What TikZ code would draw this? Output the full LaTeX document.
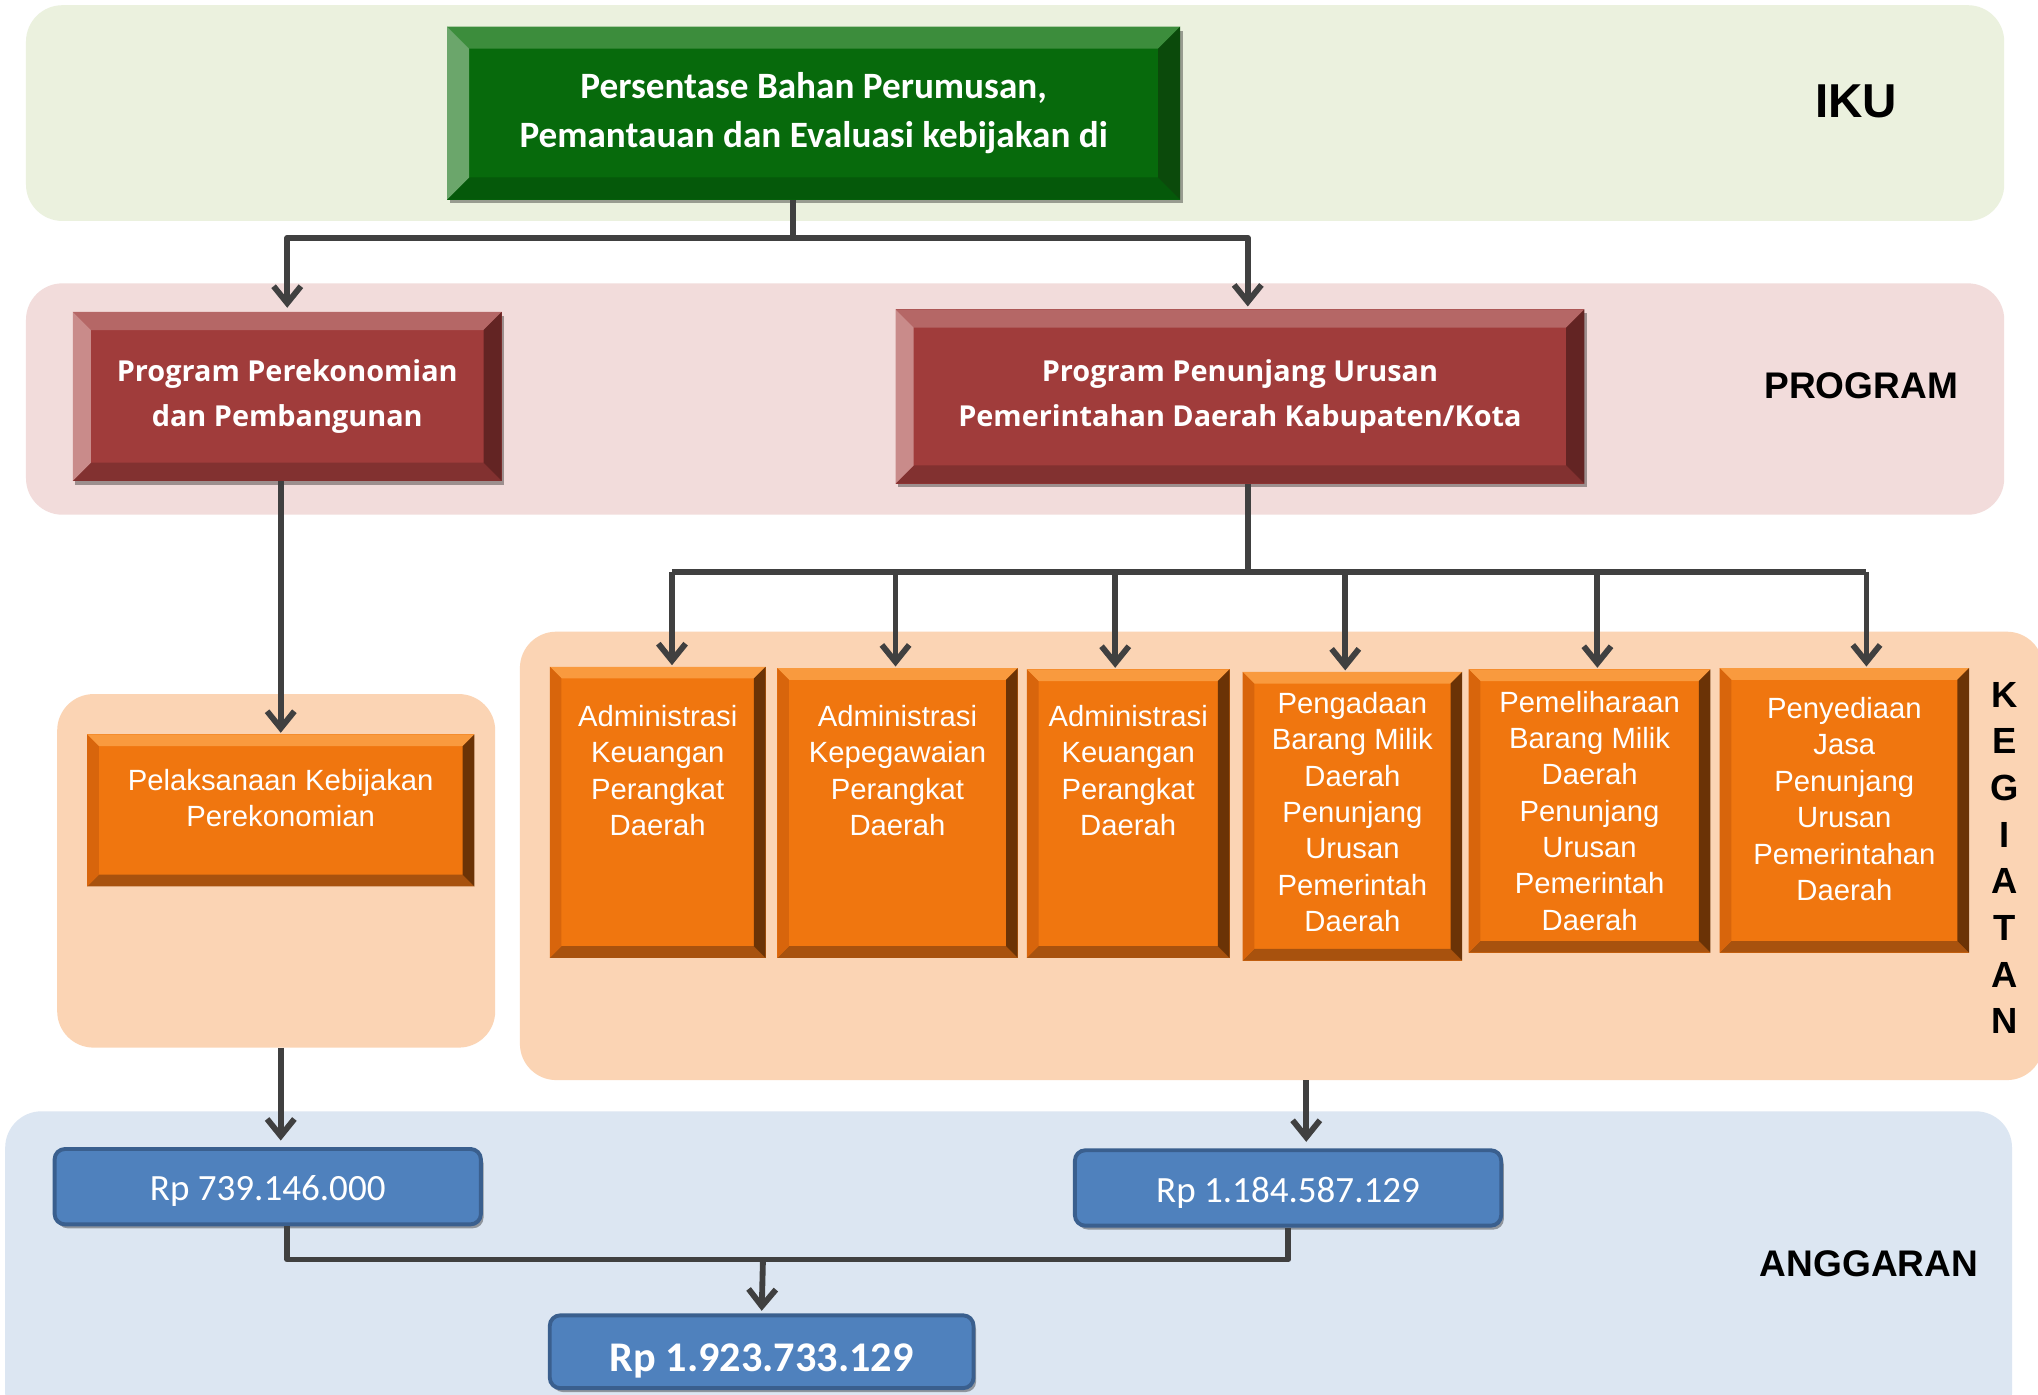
\documentclass[tikz,border=0pt]{standalone}
\usepackage{fontspec}
\setmainfont{Liberation Sans}
\newfontfamily\calibri{Carlito}
\newfontfamily\opensans{Open Sans}
\usetikzlibrary{positioning,calc,arrows.meta,shadows}
% warna latar
\definecolor{bgIku}{HTML}{EBF1DE}
\definecolor{bgProg}{HTML}{F2DCDB}
\definecolor{bgKeg}{HTML}{FBD4B4}
\definecolor{bgAng}{HTML}{DCE6F2}
% warna kotak
\definecolor{hjC}{HTML}{076A0C}\definecolor{hjT}{HTML}{3C8D3C}\definecolor{hjL}{HTML}{6BA66B}
\definecolor{hjR}{HTML}{0B4A0B}\definecolor{hjB}{HTML}{05590A}
\definecolor{mrC}{HTML}{A03C3B}\definecolor{mrT}{HTML}{B56766}\definecolor{mrL}{HTML}{C98B8A}
\definecolor{mrR}{HTML}{632423}\definecolor{mrB}{HTML}{823130}
\definecolor{orC}{HTML}{F0760F}\definecolor{orT}{HTML}{F99A3E}\definecolor{orL}{HTML}{D8650C}
\definecolor{orR}{HTML}{6B3306}\definecolor{orB}{HTML}{A8520E}
\definecolor{biru}{HTML}{4F81BD}\definecolor{biruG}{HTML}{3A5F8E}
\definecolor{garis}{HTML}{404040}
\tikzset{
  band/.style={fill=#1, rounded corners=28pt, inner sep=0pt},
  bevel/.style n args={6}{fill=#2, inner sep=0pt, path picture={
      \path (path picture bounding box.north west) coordinate (pnw)
            (path picture bounding box.south east) coordinate (pse);
      \fill[#3] (pnw) -- (pse |- pnw) -- ++(-#1,-#1) -- ($(pnw)+(#1,-#1)$) -- cycle;
      \fill[#6] (pnw |- pse) -- (pse) -- ++(-#1,#1) -- ($(pnw |- pse)+(#1,#1)$) -- cycle;
      \fill[#4] (pnw) -- ++(#1,-#1) -- ($(pnw |- pse)+(#1,#1)$) -- (pnw |- pse) -- cycle;
      \fill[#5] (pse |- pnw) -- ++(-#1,-#1) -- ($(pse)+(-#1,#1)$) -- (pse) -- cycle;
    }},
  bayang/.style={drop shadow={shadow xshift=2pt, shadow yshift=-3pt, opacity=.35, fill=black}},
  ikubox/.style={bevel={17pt}{hjC}{hjT}{hjL}{hjR}{hjB}, bayang, text=white, align=center,
    font=\calibri\bfseries\fontsize{28.6}{38}\selectfont},
  progbox/.style={bevel={14pt}{mrC}{mrT}{mrL}{mrR}{mrB}, bayang, text=white, align=center,
    font=\opensans\bfseries\fontsize{22.2}{35}\selectfont},
  kegbox/.style={bevel={9pt}{orC}{orT}{orL}{orR}{orB}},
  ktext/.style={text=white, align=center, inner sep=0pt, font=\fontsize{22.5}{28}\selectfont},
  rpbox/.style={fill=biru, draw=biruG, line width=3pt, rounded corners=8pt, bayang, text=white,
    text height=22pt, text depth=0pt, font=\calibri\fontsize{28.5}{30}\selectfont},
  judul/.style={align=center, font=\bfseries\fontsize{28.5}{36}\selectfont},
  conn/.style={draw=garis, line width=4.5pt},
  panah/.style={conn, -{Straight Barb[length=13pt,width=21pt]}},
}
\begin{document}
\begin{tikzpicture}[x=1pt,y=-1pt, line join=round]
  \fill[white] (0,0) rectangle (1568,1073);
  \useasboundingbox (0,0) rectangle (1568,1073);
  % latar tiap baris
  \node[band=bgIku, minimum width=1522pt, minimum height=166pt] (iku) at (781,87) {};
  \node[band=bgProg, minimum width=1522pt, minimum height=178pt] (prog) at (781,307) {};
  \node[band=bgKeg, minimum width=337pt, minimum height=272pt] (kegL) at (212.5,670) {};
  \node[band=bgKeg, minimum width=1172pt, minimum height=345pt] (kegR) at (986,658.5) {};
  \node[band=bgAng, minimum width=1544pt, minimum height=245pt] (angg) at (776,977.5) {};
  % judul baris
  \node[judul, font=\bfseries\fontsize{36.6}{40}\selectfont] (lIku) at (1428,78) {IKU};
  \node[judul] (lProg) at (1432,297) {PROGRAM};
  \node[judul] (lAng) at (1438,972) {ANGGARAN};
  \node[judul, font=\bfseries\fontsize{28}{35.9}\selectfont] (lKeg) at (1542,660) {K\\E\\G\\I\\A\\T\\A\\N};
  % IKU dan program
  \node[ikubox, minimum width=564pt, minimum height=133pt] (sasaran) at (626,87)
    {Persentase Bahan Perumusan,\\Pemantauan dan Evaluasi kebijakan di};
  \node[progbox, minimum width=330pt, minimum height=130pt] (prog1) at (221,305)
    {Program Perekonomian\\dan Pembangunan};
  \node[progbox, minimum width=530pt, minimum height=134pt] (prog2) at (954,305)
    {Program Penunjang Urusan\\Pemerintahan Daerah Kabupaten/Kota};
  % kegiatan
  \node[kegbox, minimum width=298pt, minimum height=117pt] (keg0) at (216,623.5) {};
  \node[kegbox, minimum width=166pt, minimum height=224pt] (keg1) at (506,625) {};
  \node[kegbox, minimum width=185pt, minimum height=223pt] (keg2) at (690.5,625.5) {};
  \node[kegbox, minimum width=156pt, minimum height=222pt] (keg3) at (868,626) {};
  \node[kegbox, minimum width=169pt, minimum height=222pt] (keg4) at (1040.5,628) {};
  \node[kegbox, minimum width=186pt, minimum height=218pt] (keg5) at (1223,624) {};
  \node[kegbox, minimum width=192pt, minimum height=219pt] (keg6) at (1419,623.5) {};
  \node[ktext, below=26.5pt of keg0.north] (t0) {Pelaksanaan Kebijakan\\Perekonomian};
  \node[ktext, below=29.5pt of keg1.north] (t1) {Administrasi\\Keuangan\\Perangkat\\Daerah};
  \node[ktext, below=28.5pt of keg2.north] (t2) {Administrasi\\Kepegawaian\\Perangkat\\Daerah};
  \node[ktext, below=27.5pt of keg3.north] (t3) {Administrasi\\Keuangan\\Perangkat\\Daerah};
  \node[ktext, below=15.5pt of keg4.north] (t4) {Pengadaan\\Barang Milik\\Daerah\\Penunjang\\Urusan\\Pemerintah\\Daerah};
  \node[ktext, below=16.5pt of keg5.north] (t5) {Pemeliharaan\\Barang Milik\\Daerah\\Penunjang\\Urusan\\Pemerintah\\Daerah};
  \node[ktext, below=22.5pt of keg6.north] (t6) {Penyediaan\\Jasa\\Penunjang\\Urusan\\Pemerintahan\\Daerah};
  % anggaran
  \node[rpbox, minimum width=328pt, minimum height=58pt] (rp1) at (206,913) {Rp 739.146.000};
  \node[rpbox, minimum width=328pt, minimum height=58pt] (rp2) at (991,914) {Rp 1.184.587.129};
  \node[rpbox, minimum width=326pt, minimum height=56pt, text height=30pt,
    font=\calibri\bfseries\fontsize{32.5}{34}\selectfont] (rpTot) at (586,1040) {Rp 1.923.733.129};
  % garis penghubung
  \coordinate (jIku) at (610,183);
  \draw[conn] (sasaran.south -| jIku) -- (jIku);
  \draw[panah, shorten >=3pt] (jIku) -| (prog1.north);
  \draw[panah, shorten >=2pt] (jIku) -| ([xshift=6pt]prog2.north);
  \draw[panah, shorten >=1pt] (prog1.south -| keg0.north) -- (keg0.north);
  \coordinate (jKeg) at (960,440);
  \draw[conn] (prog2.south -| jKeg) -- (jKeg);
  \foreach \n/\x in {1/517,2/689,3/858,4/1035,5/1229,6/1436}{
    \coordinate (a\n) at (\x,440);
    \draw[panah, shorten >=1pt] (a\n) -- (a\n |- keg\n.north);
  }
  \draw[conn] (a1) -- (a6);
  \draw[panah, shorten >=5pt] (kegL.south -| keg0.south) -- (rp1.north -| keg0.south);
  \draw[panah, shorten >=5pt] ([xshift=19pt]kegR.south) -- ([xshift=19pt]kegR.south |- rp2.north);
  \coordinate (jAng) at (587,969);
  \draw[conn] ([xshift=15pt]rp1.south) |- (jAng) -| (rp2.south);
  \draw[panah, shorten >=2pt] (jAng) -- (rpTot.north);
\end{tikzpicture}
\end{document}
